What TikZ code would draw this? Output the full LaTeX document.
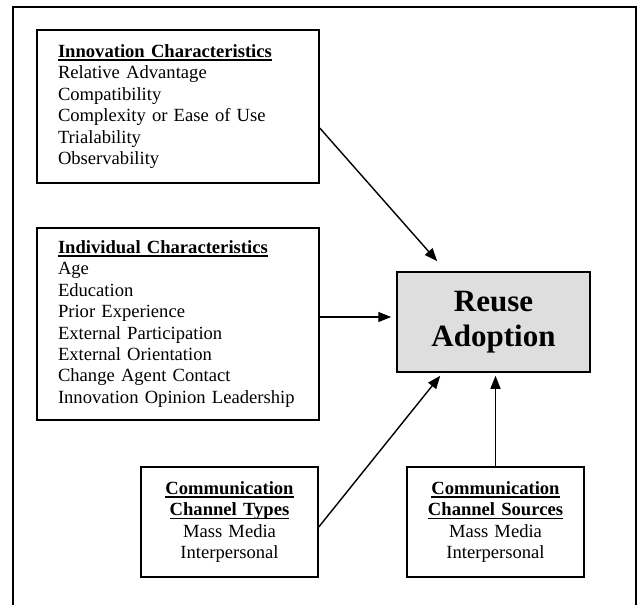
\documentclass[tikz,border=0pt]{standalone}
\usepackage{fontspec}
\setmainfont{Liberation Serif}
\usetikzlibrary{arrows.meta}
\newcommand{\hd}[1]{\leavevmode{\bfseries\setbox0\hbox{#1}\rlap{\rule[-3.2pt]{\wd0}{1.3pt}}\box0}}
\begin{document}
\begin{tikzpicture}[x=1pt,y=-1pt,
  box/.style={draw, line width=1.5pt, inner sep=0pt, font=\fontsize{18.6}{21.4}\selectfont},
  arr/.style={line width=1.4pt, -{Triangle[length=13pt,width=10pt]}}]
\useasboundingbox (0,0) rectangle (641,605);
\draw[line width=2pt] (12.7,605) -- (12.7,7) -- (636,7) -- (636,605);
\node[box, minimum width=282pt, minimum height=153pt, text width=240pt, align=left] (inn) at (178,106.5)
  {\hd{Innovation Characteristics}\\Relative Advantage\\Compatibility\\Complexity or Ease of Use\\Trialability\\Observability};
\node[box, minimum width=282pt, minimum height=192pt, text width=240pt, align=left] (indiv) at (178,324)
  {\hd{Individual Characteristics}\\Age\\Education\\Prior Experience\\External Participation\\External Orientation\\Change Agent Contact\\Innovation Opinion Leadership};
\node[box, minimum width=177pt, minimum height=110pt, text width=170pt, align=center] (types) at (229.5,522)
  {\hd{Communication}\\\hd{Channel Types}\\Mass Media\\Interpersonal};
\node[box, minimum width=177pt, minimum height=110pt, text width=170pt, align=center] (sources) at (495.5,522)
  {\hd{Communication}\\\hd{Channel Sources}\\Mass Media\\Interpersonal};
\node[box, fill=black!13, minimum width=193pt, minimum height=100pt, align=center,
  font=\fontsize{31}{35}\selectfont\bfseries] (reuse) at (493.5,322) {Reuse\\Adoption};
\draw[arr] ([yshift=-21.5pt]inn.east) -- ([xshift=41pt,yshift=10pt]reuse.north west);
\draw[arr] ([yshift=7pt]indiv.east) -- ([yshift=7pt,xshift=-5pt]indiv.east -| reuse.west);
\draw[arr] ([yshift=-5pt]types.east) -- ([xshift=44pt,yshift=-3pt]reuse.south west);
\draw[arr] (sources.north) -- ([yshift=-3pt]sources.north |- reuse.south);
\end{tikzpicture}
\end{document}
